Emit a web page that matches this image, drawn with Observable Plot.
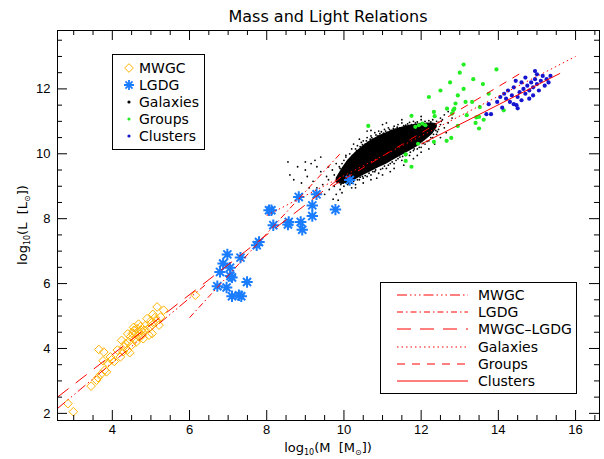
<!DOCTYPE html>
<html><head><meta charset="utf-8">
<script src="https://cdn.jsdelivr.net/npm/d3@7"></script>
<script src="https://cdn.jsdelivr.net/npm/@observablehq/plot@0.6"></script>
<style>body{margin:0;background:#fff}</style>
</head><body><div id="chart"></div>
<script>
// ---------- data ----------
const mwgcX = [2.99,2.85,3.45,3.59,3.63,3.65,3.78,3.76,3.80,3.85,3.95,4.13,4.24,4.21,4.34,4.39,4.45,4.47,4.52,4.56,4.60,4.64,4.69,4.73,4.77,4.82,4.90,4.95,4.99,5.03,5.08,5.16,5.25,5.33,5.21,6.15,3.70,3.88,4.05,4.30,4.42,4.50,4.58,4.62,4.70,4.75,4.85,4.92,5.00,5.10,5.15,4.40,4.55,4.28,3.98,5.05,4.68,4.80];
const mwgcY = [2.05,2.30,2.84,3.02,3.10,3.97,3.89,3.62,3.33,3.28,3.74,3.95,4.25,3.74,4.15,3.95,3.87,4.36,4.46,4.56,4.46,4.61,4.51,4.67,4.41,4.56,4.92,4.41,4.67,4.46,4.77,5.28,4.97,5.18,4.72,5.64,3.20,3.55,3.60,4.05,4.20,4.10,4.30,4.20,4.35,4.55,4.70,4.60,4.85,4.95,4.85,4.45,4.65,3.90,3.65,5.05,4.75,4.30];

const lgdgX = [8.06,8.17,8.57,8.55,8.88,8.92,9.18,9.18,8.83,9.29,9.78,10.15,7.80,7.74,6.98,7.32,6.87,7.05,6.79,7.06,7.10,7.49,6.72,6.96,7.10,7.28,7.34,8.12];
const lgdgY = [8.26,7.80,7.90,7.82,7.90,7.66,8.41,8.08,8.67,8.75,8.28,9.19,7.28,7.18,6.90,6.80,6.62,6.49,6.36,6.23,6.19,6.05,5.92,5.88,5.61,5.64,5.61,8.26];

// dense core of the galaxy sample (envelope)
const coreX    = [9.8,9.95,10.1,10.3,10.5,10.7,10.9,11.1,11.3,11.5,11.7,11.9,12.1,12.3,12.42];
const coreLow  = [9.1,9.05,9.1,9.2,9.33,9.45,9.57,9.68,9.82,9.95,10.08,10.22,10.4,10.6,10.82];
const coreHigh = [9.25,9.55,9.8,10.05,10.25,10.42,10.55,10.65,10.75,10.82,10.88,10.92,10.94,10.95,10.92];
// scattered galaxies around the core
const galX = [8.55,8.7,8.9,9.0,9.05,9.2,9.25,9.3,9.4,9.45,9.5,9.55,9.6,9.62,9.7,9.72,9.75,9.8,9.85,9.88,9.9,9.95,9.4,9.1,8.8,
  9.9,10.0,10.05,10.15,10.2,10.3,10.35,10.45,10.5,10.55,10.6,10.7,10.75,10.8,10.9,11.0,11.05,11.15,11.2,11.3,11.4,11.5,11.6,11.7,11.8,11.9,12.0,12.1,12.2,12.3,12.4,12.5,12.6,12.55,10.25,10.6,11.0,10.4,10.15,9.95,
  10.0,10.1,10.2,10.3,10.4,10.5,10.6,10.7,10.8,10.9,11.0,11.1,11.2,11.3,11.4,11.5,11.6,11.7,11.8,11.9,12.0,12.1,12.2,12.3,12.4,12.45,12.5,12.2,11.9,11.55,11.2,10.85,10.5,10.3,12.35,12.6,12.7,11.0,12.0,
  10.0,10.08,10.12,10.22,10.28,10.33,10.38,10.42,10.48,10.52,10.58,10.62,10.68,10.72,10.78,10.83,10.88,10.93,10.97,11.03,11.08,11.12,11.18,11.23,11.28,11.33,11.38,11.45,11.55,11.65,11.75,11.85,11.95,12.05,12.15,12.25,12.35,12.45,12.52,
  9.92,9.98,10.05,10.12,10.18,10.25,10.35,10.42,10.48,10.55,10.65,10.75,10.82,10.95,11.05,11.15,11.25,11.35,11.45,11.52,11.62,11.72,11.82,11.95,12.05,12.15,12.25,12.32,12.38,12.42,
  9.6,9.75,9.8,9.85,10.05,10.2,10.4,10.7,11.1,11.5,12.0,12.7,12.8,10.2,10.7,11.3,11.8,12.5,12.65,9.3,9.0,8.6,9.15];
const galY = [9.75,9.2,9.1,9.75,9.3,9.15,9.8,8.95,9.45,9.05,8.75,9.3,9.2,8.9,9.5,8.6,9.0,8.75,8.57,9.6,8.9,8.8,9.9,8.95,9.6,
  9.55,9.8,9.9,10.0,9.85,10.15,10.25,10.35,10.4,10.3,10.5,10.55,10.45,10.65,10.7,10.6,10.75,10.8,10.7,10.85,10.9,10.95,10.88,10.97,11.0,10.98,11.05,11.0,11.02,11.05,11.0,11.1,11.2,11.05,10.3,10.7,10.9,10.05,9.75,9.7,
  9.0,9.05,9.1,9.05,9.2,9.25,9.3,9.35,9.45,9.4,9.55,9.55,9.7,9.7,9.85,9.8,9.95,9.95,10.1,10.15,10.2,10.3,10.4,10.5,10.6,10.75,10.9,10.15,9.95,9.65,9.45,9.25,9.1,8.95,10.3,10.8,10.95,9.35,10.05,
  9.6,9.75,9.62,9.95,9.9,10.1,10.0,10.22,10.28,10.2,10.4,10.35,10.45,10.5,10.42,10.58,10.55,10.62,10.68,10.64,10.7,10.66,10.75,10.72,10.78,10.75,10.82,10.8,10.87,10.92,10.9,10.95,10.93,10.96,10.94,10.98,10.93,10.97,11.0,
  9.05,9.1,9.12,9.1,9.18,9.15,9.2,9.28,9.3,9.33,9.4,9.45,9.5,9.52,9.62,9.65,9.75,9.8,9.9,9.92,10.0,10.05,10.15,10.2,10.32,10.38,10.5,10.6,10.72,10.68,
  9.6,9.35,9.7,9.2,9.95,10.15,10.45,10.72,10.95,11.05,11.15,11.3,11.1,8.95,9.2,9.55,9.85,10.5,10.65,9.6,9.5,9.35,9.7];

const groupX = [10.63,11.75,11.85,11.94,12.03,12.11,11.92,11.60,11.60,11.75,12.33,12.33,12.35,12.67,12.66,12.78,12.80,12.83,12.86,12.89,12.95,13.15,13.18,13.32,13.41,13.43,13.50,13.50,13.52,13.62,14.14,12.5,12.75,13.0,13.1,13.35,13.6,13.75,12.95,12.2,13.1,13.95];
const groupY = [10.86,11.17,10.83,10.88,10.93,10.88,10.31,9.98,9.78,9.60,11.29,10.37,11.16,11.39,10.40,10.49,11.24,11.34,11.39,11.55,10.86,11.60,11.19,11.60,10.95,11.12,11.14,10.78,11.44,11.05,11.34,11.95,12.2,12.5,12.0,12.3,12.15,11.85,11.8,11.75,12.75,12.6];

const clusterX = [13.75,13.69,13.81,14.1,13.97,14.3,14.4,14.47,14.2,14.35,14.5,14.6,14.55,14.65,14.7,14.75,14.8,14.85,14.9,14.95,15.0,15.05,15.1,15.15,15.2,14.4,14.25,14.6,14.9,15.0,14.7,14.8,15.25,14.45,14.15,14.05,14.5,14.95,15.3,15.35];
const clusterY = [11.53,11.22,11.22,11.42,11.6,11.6,11.53,11.5,11.7,11.8,11.75,11.65,11.9,12.0,11.85,12.1,11.95,12.2,12.05,12.3,12.15,11.95,12.25,12.4,12.1,12.05,11.95,12.2,11.8,12.45,12.35,11.7,12.3,12.25,11.85,11.75,11.4,12.55,12.2,12.4];

// fitted relations (end points)
const fitNames = ["MWGC","LGDG","MWGC\u2013LGDG","Galaxies","Groups","Clusters"];
const fitX0 = [2.58, 6.0, 2.58, 8.0, 9.7, 12.0];
const fitY0 = [2.15, 4.95, 2.5, 8.1, 9.0, 10.3];
const fitX1 = [6.4, 9.9, 10.0, 16.0, 14.6, 15.6];
const fitY1 = [5.95, 10.0, 9.35, 13.0, 12.5, 12.48];
const fitDash = ["10,3,1.5,3,1.5,3,1.5,3", "6,3,1.5,3", "14,9", "1.5,3", "8,7", null];

const pointNames = ["MWGC","LGDG","Galaxies","Groups","Clusters"];

const xTicks = [4,6,8,10,12,14,16];
const yTicks = [2,4,6,8,10,12];
const xMinor = [3,3.5,4.5,5,5.5,6.5,7,7.5,8.5,9,9.5,10.5,11,11.5,12.5,13,13.5,14.5,15,15.5,16.5];
const yMinor = [2.5,3,3.5,4.5,5,5.5,6.5,7,7.5,8.5,9,9.5,10.5,11,11.5,12.5,13,13.5];
const xDomain = [2.58, 16.62];
const yDomain = [1.78, 13.8];

// ---------- layout ----------
const W = 604, H = 459, mL = 57, mR = 5, mT = 30, mB = 39;
const pW = W - mL - mR, pH = H - mT - mB;
const RED = "#ff0000", ORANGE = "#ffb400", SKY = "#1a7cff", GREEN = "#22ee22", NAVY = "#1515d0";

const asterisk8 = {draw(ctx, size) {
  const r = Math.sqrt(size / Math.PI);
  for (let k = 0; k < 4; k++) {
    const a = k * Math.PI / 4;
    ctx.moveTo(-r * Math.cos(a), -r * Math.sin(a));
    ctx.lineTo(r * Math.cos(a), r * Math.sin(a));
  }
}};

const idx = a => a.map((_, i) => i);
const fitMarks = fitNames.map((n, i) => Plot.link([i], {
  x1: j => fitX0[j], y1: j => fitY0[j], x2: j => fitX1[j], y2: j => fitY1[j],
  stroke: RED, strokeWidth: 1, strokeDasharray: fitDash[i] || undefined
}));

const svg = Plot.plot({
  width: W, height: H, marginLeft: mL, marginRight: mR, marginTop: mT, marginBottom: mB,
  style: {fontFamily: "'Liberation Sans', Arial, sans-serif", fontSize: "13px", background: "#fff", color: "#000"},
  x: {domain: xDomain, axis: null},
  y: {domain: yDomain, axis: null},
  marks: [
    Plot.areaY(idx(coreX), {x: i => coreX[i], y1: i => coreLow[i], y2: i => coreHigh[i], fill: "#000", curve: "linear"}),
    Plot.dot(idx(galX), {x: i => galX[i], y: i => galY[i], r: 0.9, fill: "#000"}),
    Plot.dot(idx(groupX), {x: i => groupX[i], y: i => groupY[i], r: 2.1, fill: GREEN}),
    Plot.dot(idx(clusterX), {x: i => clusterX[i], y: i => clusterY[i], r: 2.1, fill: NAVY}),
    Plot.dot(idx(mwgcX), {x: i => mwgcX[i], y: i => mwgcY[i], symbol: "diamond2", r: 3.9, fill: "none", stroke: ORANGE, strokeWidth: 1}),
    Plot.dot(idx(lgdgX), {x: i => lgdgX[i], y: i => lgdgY[i], symbol: asterisk8, r: 5.7, fill: "none", stroke: SKY, strokeWidth: 2}),
    ...fitMarks,
    Plot.frame({stroke: "#000"}),
    // ticks inward on all four sides
    Plot.ruleX(xTicks, {x: d => d, insetTop: pH - 10, stroke: "#000"}),
    Plot.ruleX(xTicks, {x: d => d, insetBottom: pH - 10, stroke: "#000"}),
    Plot.ruleX(xMinor, {x: d => d, insetTop: pH - 5, stroke: "#000"}),
    Plot.ruleX(xMinor, {x: d => d, insetBottom: pH - 5, stroke: "#000"}),
    Plot.ruleY(yTicks, {y: d => d, insetRight: pW - 10, stroke: "#000"}),
    Plot.ruleY(yTicks, {y: d => d, insetLeft: pW - 10, stroke: "#000"}),
    Plot.ruleY(yMinor, {y: d => d, insetRight: pW - 5, stroke: "#000"}),
    Plot.ruleY(yMinor, {y: d => d, insetLeft: pW - 5, stroke: "#000"}),
    Plot.text(xTicks, {x: d => d, frameAnchor: "bottom", dy: 13, text: d => String(d), fill: "#000"}),
    Plot.text(yTicks, {y: d => d, frameAnchor: "left", dx: -7, textAnchor: "end", text: d => String(d), fill: "#000"})
  ]
});

const root = d3.select(svg);
const FONT = "'DejaVu Sans', sans-serif";

// title
root.append("text").attr("x", mL + pW / 2).attr("y", 22).attr("text-anchor", "middle")
  .attr("font-family", FONT).attr("font-size", 16).text("Mass and Light Relations");

// text with subscripts: subscripts go down 3px, following normal text comes back up
function richText(sel, parts) {
  let prevSub = false;
  parts.forEach(([t, sub]) => {
    const ts = sel.append("tspan").text(t);
    if (sub && !prevSub) ts.attr("dy", 3).attr("font-size", 8);
    else if (!sub && prevSub) ts.attr("dy", -3);
    else if (sub) ts.attr("font-size", 8);
    prevSub = sub;
  });
}
const xl = root.append("text").attr("x", mL + pW / 2).attr("y", 452).attr("text-anchor", "middle")
  .attr("font-family", FONT).attr("font-size", 13);
richText(xl, [["log", false], ["10", true], ["(M  [M", false], ["\u2299", true], ["])", false]]);
const yl = root.append("text").attr("transform", `translate(27,${mT + pH / 2}) rotate(-90)`).attr("text-anchor", "middle")
  .attr("font-family", FONT).attr("font-size", 13);
richText(yl, [["log", false], ["10", true], ["(L  [L", false], ["\u2299", true], ["])", false]]);

// legend 1 (symbols)
const lg1 = root.append("g");
lg1.append("rect").attr("x", 112.5).attr("y", 54.5).attr("width", 92).attr("height", 95)
  .attr("fill", "#fff").attr("stroke", "#000");
const symY = [68, 85, 102, 119, 136];
const symColors = [ORANGE, SKY, "#000", GREEN, NAVY];
pointNames.forEach((n, i) => {
  const cx = 129, cy = symY[i];
  if (i === 0) lg1.append("path").attr("d", d3.symbol(d3.symbolDiamond2, 3.9 * 3.9 * Math.PI)()).attr("transform", `translate(${cx},${cy})`).attr("fill", "none").attr("stroke", ORANGE);
  else if (i === 1) lg1.append("path").attr("d", d3.symbol(asterisk8, 5 * 5 * Math.PI)()).attr("transform", `translate(${cx},${cy})`).attr("fill", "none").attr("stroke", SKY).attr("stroke-width", 1.8);
  else lg1.append("circle").attr("cx", cx).attr("cy", cy).attr("r", 1.6).attr("fill", symColors[i]);
  lg1.append("text").attr("x", 139).attr("y", cy + 5).attr("text-anchor", "start").attr("font-family", FONT).attr("font-size", 14).text(n);
});

// legend 2 (lines)
const lg2 = root.append("g");
lg2.append("rect").attr("x", 380.5).attr("y", 282.5).attr("width", 196).attr("height", 111)
  .attr("fill", "#fff").attr("stroke", "#000");
const rowY = [295, 312, 329, 347, 364, 381];
fitNames.forEach((n, i) => {
  lg2.append("line").attr("x1", 397).attr("x2", 468).attr("y1", rowY[i]).attr("y2", rowY[i])
    .attr("stroke", RED).attr("stroke-width", 1).attr("stroke-dasharray", fitDash[i]);
  lg2.append("text").attr("x", 478).attr("y", rowY[i] + 5).attr("text-anchor", "start").attr("font-family", FONT).attr("font-size", 14).text(n);
});

document.getElementById("chart").appendChild(svg);
</script>
</body></html>
